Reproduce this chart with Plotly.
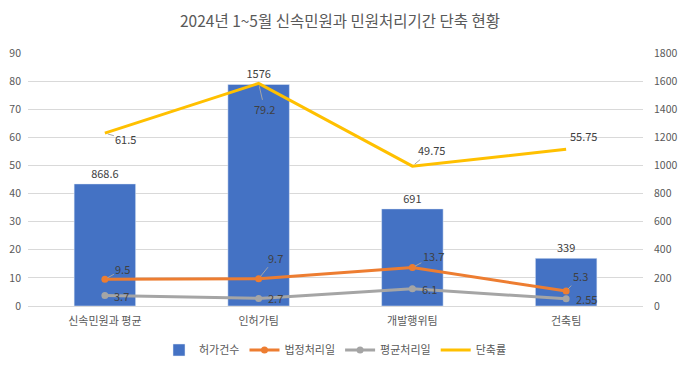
import plotly.graph_objects as go

categories = ["신속민원과 평균", "인허가팀", "개발행위팀", "건축팀"]
permits = [868.6, 1576, 691, 339]          # 허가건수 (right axis)
legal_days = [9.5, 9.7, 13.7, 5.3]         # 법정처리일
avg_days = [3.7, 2.7, 6.1, 2.55]           # 평균처리일
reduction = [61.5, 79.2, 49.75, 55.75]     # 단축률

FONT = "Noto Sans CJK KR"
TXT = "#595959"
LBL = "#404040"

# label placement (pixel offsets of label from its point) - styling only
reduction_off = [(21, 6), (6, 26), (19, -16), (17, -13)]
legal_off = [(18, -10), (17, -21), (21, -11), (14, -15)]
avg_off = [(17, 0), (17, 0), (17, 0), (20, 0)]
reduction_leader = [True, True, True, False]
legal_leader = [True, True, True, True]

fig = go.Figure()

fig.add_trace(go.Bar(
    x=categories, y=permits, name="허가건수", yaxis="y",
    marker=dict(color="#4472C4"), width=0.4,
    text=[f"{v:g}" for v in permits], textposition="outside",
    textfont=dict(size=11, color=LBL, family=FONT), cliponaxis=False,
))

fig.add_trace(go.Scatter(
    x=categories, y=legal_days, name="법정처리일", yaxis="y2",
    mode="lines+markers",
    line=dict(color="#ED7D31", width=3), marker=dict(size=7, color="#ED7D31"),
))

fig.add_trace(go.Scatter(
    x=categories, y=avg_days, name="평균처리일", yaxis="y2",
    mode="lines+markers",
    line=dict(color="#A5A5A5", width=3), marker=dict(size=7, color="#A5A5A5"),
))

fig.add_trace(go.Scatter(
    x=categories, y=reduction, name="단축률", yaxis="y2",
    mode="lines",
    line=dict(color="#FFC000", width=3),
))

annotations = []


def add_labels(values, offsets, leaders):
    for cat, v, (dx, dy), lead in zip(categories, values, offsets, leaders):
        if lead:
            annotations.append(dict(
                x=cat, y=v, xref="x", yref="y2", text=f"{v:g}",
                showarrow=True, arrowhead=0, arrowwidth=1, arrowcolor="#A6A6A6",
                ax=dx, ay=dy, standoff=3,
                font=dict(size=11, color=LBL, family=FONT),
            ))
        else:
            annotations.append(dict(
                x=cat, y=v, xref="x", yref="y2", text=f"{v:g}",
                showarrow=False, xshift=dx, yshift=-dy,
                font=dict(size=11, color=LBL, family=FONT),
            ))


add_labels(reduction, reduction_off, reduction_leader)
add_labels(legal_days, legal_off, legal_leader)
add_labels(avg_days, avg_off, [False] * 4)

fig.update_layout(
    width=680, height=366,
    margin=dict(l=28, r=37, t=53, b=60, autoexpand=False),
    paper_bgcolor="white", plot_bgcolor="white",
    font=dict(family=FONT, color=TXT, size=11),
    title=dict(text="2024년 1~5월 신속민원과 민원처리기간 단축 현황",
               x=0.5, xanchor="center", y=1 - 22 / 366, yanchor="middle",
               font=dict(size=15.5, color=TXT, family=FONT)),
    xaxis=dict(showgrid=False, showline=True, linecolor="#D9D9D9",
               tickfont=dict(size=11, color=TXT), ticks="", automargin=False,
               ticklabelstandoff=5),
    yaxis=dict(side="right", range=[0, 1800], dtick=200, showgrid=True,
               gridcolor="#D9D9D9", zeroline=False, showline=False,
               tickfont=dict(size=10.5, color=TXT), automargin=False,
               ticklabelstandoff=10),
    yaxis2=dict(side="left", overlaying="y", range=[0, 90], dtick=10,
                showgrid=False, zeroline=False, showline=False,
                tickfont=dict(size=10.5, color=TXT), automargin=False,
                ticklabelstandoff=6),
    legend=dict(orientation="h", x=0.5, xanchor="center",
                yref="container", y=1 - 350 / 366, yanchor="middle",
                font=dict(size=11, color=TXT)),
    annotations=annotations,
)

fig.write_html("out.html", config={"displayModeBar": False},
               post_script="document.body.style.margin='0';")
